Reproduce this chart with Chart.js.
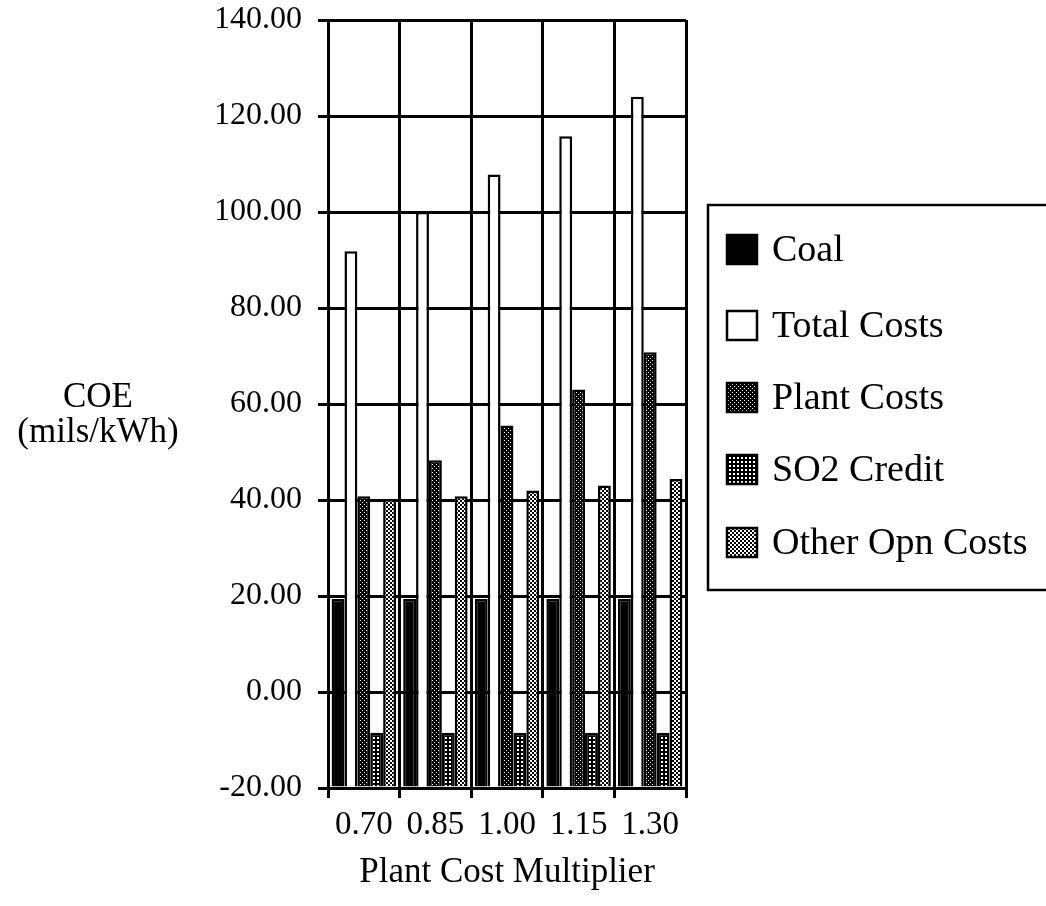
<!DOCTYPE html>
<html>
<head>
<meta charset="utf-8">
<script src="https://cdn.jsdelivr.net/npm/chart.js@4/dist/chart.umd.min.js"></script>
<style>
  html, body { margin: 0; padding: 0; background: #fff; }
  #wrap { position: relative; width: 1046px; height: 906px; }
</style>
</head>
<body>
<div id="wrap"><canvas id="c"></canvas></div>
<script>
// Cost of electricity by plant cost multiplier (mils/kWh)
const categories = ['0.70', '0.85', '1.00', '1.15', '1.30'];
const coal       = [19.4, 19.4, 19.4, 19.4, 19.4];
const totalCosts = [91.8, 100.0, 107.8, 115.8, 124.0];
const plantCosts = [40.8, 48.3, 55.5, 63.0, 70.8];
const so2Credit  = [-8.5, -8.5, -8.5, -8.5, -8.5];
const otherOpn   = [40.2, 40.8, 42.0, 43.0, 44.4];
const seriesNames = ['Coal', 'Total Costs', 'Plant Costs', 'SO2 Credit', 'Other Opn Costs'];
const yTicks = [-20, 0, 20, 40, 60, 80, 100, 120, 140];

const SERIF = '"Liberation Serif", "DejaVu Serif", serif';

// Small bitmap fills for the shaded series
function makePattern(w, h, bg, fg, dots) {
  const c = document.createElement('canvas');
  c.width = w; c.height = h;
  const g = c.getContext('2d');
  g.fillStyle = bg; g.fillRect(0, 0, w, h);
  g.fillStyle = fg;
  dots.forEach(([x, y, dw, dh]) => g.fillRect(x, y, dw || 1, dh || 1));
  return g.createPattern(c, 'repeat');
}
const ctx = document.getElementById('c').getContext('2d');
const plantFill = makePattern(4, 4, '#000', '#fff', [[0, 0], [2, 2]]);
const so2Fill   = makePattern(4, 4, '#000', '#fff', [[1, 1, 2, 2]]);
const otherFill = makePattern(4, 4, '#fff', '#000', [[0, 0, 2, 2], [2, 2, 2, 2], [1, 0], [3, 2]]);
const fills = ['#000', '#fff', plantFill, so2Fill, otherFill];
const seriesData = [coal, totalCosts, plantCosts, so2Credit, otherOpn];

const datasets = seriesNames.map((name, i) => ({
  label: name,
  data: seriesData[i],
  base: -20,
  backgroundColor: fills[i],
  borderColor: '#000',
  borderWidth: 2.5,
  borderSkipped: 'bottom',
  categoryPercentage: 0.9,
  barPercentage: 1.0
}));

// Horizontal y-axis title and the boxed legend
const extras = {
  id: 'extras',
  afterDraw(chart) {
    const g = chart.ctx;
    g.save();
    g.fillStyle = '#000';
    g.textAlign = 'center';
    g.textBaseline = 'middle';
    g.font = '35px ' + SERIF;
    g.fillText('COE', 98, 398);
    g.fillText('(mils/kWh)', 98, 433);

    // legend box
    const bx = 708, by = 205, bw = 400, bh = 385;
    g.lineWidth = 2.5;
    g.strokeStyle = '#000';
    g.strokeRect(bx, by, bw, bh);
    g.textAlign = 'left';
    g.font = '38px ' + SERIF;
    const rows = [249, 325, 397, 469, 542];
    seriesNames.forEach((name, i) => {
      const sy = rows[i];
      g.fillStyle = fills[i];
      g.fillRect(727, sy - 14, 30, 29);
      g.lineWidth = 2.5;
      g.strokeRect(727, sy - 14, 30, 29);
      g.fillStyle = '#000';
      g.fillText(name, 772, sy + 2);
    });
    g.restore();
  }
};

new Chart(ctx, {
  type: 'bar',
  data: { labels: categories, datasets },
  options: {
    responsive: true,
    maintainAspectRatio: false,
    animation: false,
    layout: { padding: { top: 20, right: 360, left: 0, bottom: 0 } },
    plugins: { legend: { display: false }, tooltip: { enabled: false } },
    scales: {
      x: {
        offset: true,
        grid: { display: true, offset: true, color: '#000', lineWidth: 3, tickLength: 10, tickColor: '#000', tickWidth: 3 },
        border: { display: true, color: '#000', width: 3 },
        ticks: { color: '#000', font: { family: SERIF, size: 33 }, padding: 8, maxRotation: 0, autoSkip: false },
        title: { display: true, text: 'Plant Cost Multiplier', color: '#000', font: { family: SERIF, size: 35 }, padding: { top: 8, bottom: 12 } },
        afterFit(scale) { scale.height = 118; }
      },
      y: {
        min: -20, max: 140,
        afterBuildTicks(scale) { scale.ticks = yTicks.map(v => ({ value: v })); },
        grid: { color: '#000', lineWidth: 3, tickLength: 10, tickColor: '#000', tickWidth: 3 },
        border: { display: true, color: '#000', width: 3 },
        ticks: { color: '#000', font: { family: SERIF, size: 32 }, padding: 16, callback: v => Number(v).toFixed(2) },
        afterFit(scale) {
          scale.width = 328;
          scale.paddingTop = 0;
          scale.paddingBottom = 0;
        }
      }
    }
  },
  plugins: [extras]
});
</script>
</body>
</html>
